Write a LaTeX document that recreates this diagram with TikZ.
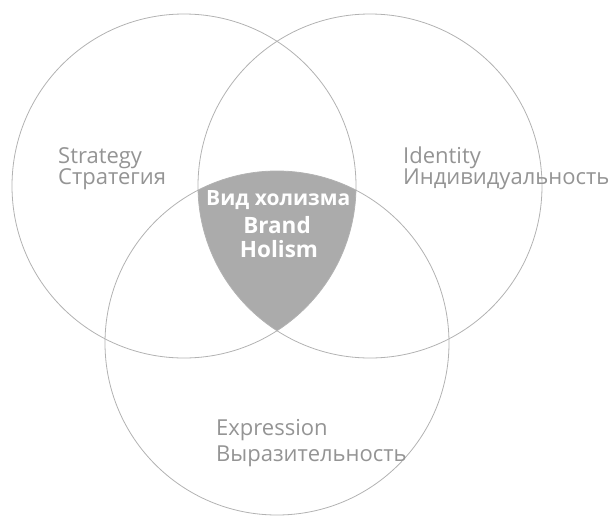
\documentclass[tikz,border=0pt]{standalone}
\usepackage{fontspec}
\setmainfont{Open Sans}
\begin{document}
\begin{tikzpicture}[x=1pt,y=1pt,
  ring/.style={draw=black!30,line width=0.8pt},
  lbl/.style={text=black!42,font=\fontsize{22}{24}\selectfont,anchor=base west,inner sep=0pt},
  ctr/.style={text=white,font=\bfseries\fontsize{22.5}{24}\selectfont,anchor=base,inner sep=0pt}]
\useasboundingbox (0,0) rectangle (611,-515);
\coordinate (cL) at (184,-186);
\coordinate (cR) at (370,-186);
\coordinate (cB) at (277,-343);
\begin{scope}
  \clip (cL) circle (172);
  \clip (cR) circle (172);
  \fill[black!33] (cB) circle (172);
\end{scope}
\draw[ring] (cL) circle (172);
\draw[ring] (cR) circle (172);
\draw[ring] (cB) circle (172);
\node[lbl] (s1) at (58,-163) {Strategy};
\node[lbl] (s2) at (58,-184) {Стратегия};
\node[lbl] (i1) at (403,-163) {Identity};
\node[lbl] (i2) at (403,-184) {Индивидуальность};
\node[lbl] (e1) at (216,-435) {Expression};
\node[lbl] (e2) at (216,-461) {Выразительность};
\node[ctr,font=\bfseries\fontsize{21}{22}\selectfont,anchor=base west] (h0) at (206,-205) {Вид холизма};
\node[ctr] (h1) at (277,-233) {Brand};
\node[ctr] (h2) at (279,-257) {Holism};
\end{tikzpicture}
\end{document}
